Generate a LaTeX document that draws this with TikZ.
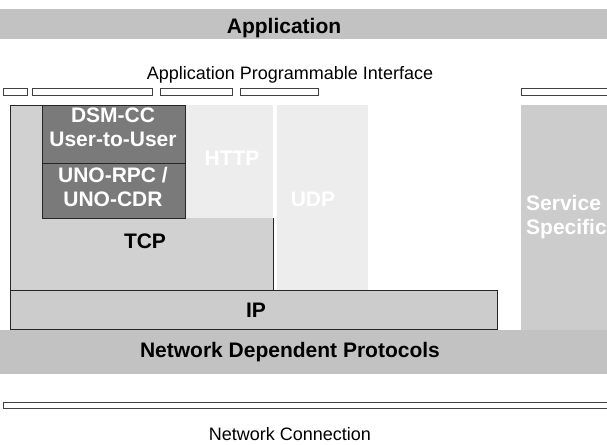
\documentclass[tikz,border=0pt]{standalone}
\usepackage{fontspec}
\setmainfont{Liberation Sans}
\begin{document}
\begin{tikzpicture}[x=1pt,y=-1pt,
  lbl/.style={font=\fontsize{21}{23}\selectfont\bfseries, inner sep=0pt},
  faint/.style={font=\fontsize{21}{23}\selectfont\bfseries, inner sep=0pt, text=white},
  plain/.style={font=\fontsize{18}{20}\selectfont, inner sep=0pt},
  apibar/.style={draw=black!75, line width=0.8pt, fill=white},
  edge/.style={draw=black!85, line width=1pt}]
\useasboundingbox (0,0) rectangle (607,444);
\begin{scope}
\clip (0,0) rectangle (607,444);
% top application bar
\fill[black!24] (0,9) rectangle (610,39);
\node[lbl] (app) at (284,28) {Application};
\node[plain] (api) at (290,75) {Application Programmable Interface};
% API bars
\path[apibar] (3,88) rectangle (27,95);
\path[apibar] (32,88) rectangle (152,95);
\path[apibar] (160,88) rectangle (232,95);
\path[apibar] (240,88) rectangle (318,95);
\path[apibar] (521,88) rectangle (612,95);
% UDP column
\fill[black!7] (277,105) rectangle (368,290);
% service column
\fill[black!20] (521,105) rectangle (612,330);
% TCP block
\fill[black!18] (10,105) rectangle (273,290);
\fill[black!7] (185,105) rectangle (273,218);
\draw[edge] (42,105) -- (10,105) -- (10,290) -- (273,290) -- (273,218);
% DSM-CC box
\path[edge, fill=black!52] (42,105) rectangle (185,218);
\draw[edge] (42,163) -- (185,163);
% IP box
\path[edge, fill=black!20] (10,290) rectangle (497,329);
% network dependent protocols
\fill[black!24] (0,330) rectangle (610,374);
% network connection bar
\path[apibar, line width=1pt] (3,402) rectangle (612,408);
% texts
\node[lbl, text=white, align=center] (dsm) at (113,127) {DSM-CC\\[1pt]User-to-User};
\node[lbl, text=white, align=center] (uno) at (113,187) {UNO-RPC /\\[1pt]UNO-CDR};
\node[lbl] (tcp) at (145,241) {TCP};
\node[faint] (http) at (232,158) {HTTP};
\node[faint] (udp) at (313,199) {UDP};
\node[lbl, text=white, align=left, anchor=west] (svc) at (526,217) {Service\\[1pt]Specific};
\node[lbl] (ip) at (256,310) {IP};
\node[lbl] (ndp) at (290,352) {Network Dependent Protocols};
\node[plain] (nc) at (290,434) {Network Connection};
\end{scope}
\end{tikzpicture}
\end{document}
